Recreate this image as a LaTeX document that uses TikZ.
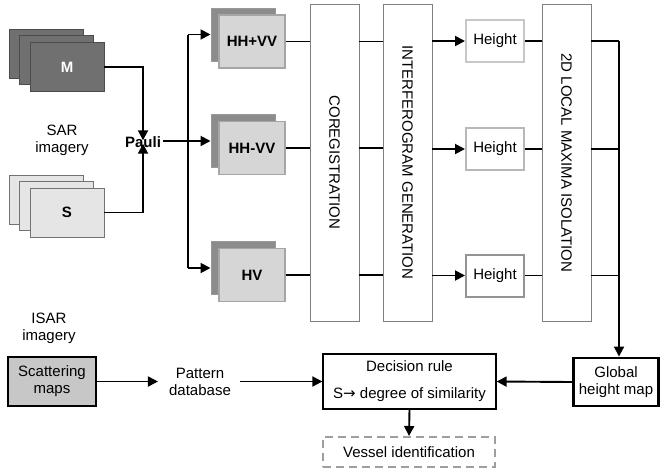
\documentclass[tikz,border=0pt]{standalone}
\usepackage{fontspec}
\setmainfont{Liberation Sans}
\newfontfamily\dejavu{DejaVu Sans}
\usetikzlibrary{arrows.meta}
\begin{document}
\begin{tikzpicture}[x=1pt,y=-1pt,
  every node/.style={font=\fontsize{15}{17}\selectfont, inner sep=0pt},
  ln/.style={line width=1.9pt},
  arr/.style={line width=1.9pt,-{Triangle[length=10pt,width=10pt]}},
  mcard/.style={draw=black!70, fill=black!56, line width=0.8pt, minimum width=74pt, minimum height=49pt},
  scard/.style={draw=black!55, fill=black!10, line width=0.8pt, minimum width=74pt, minimum height=49pt},
  pback/.style={fill=black!45, draw=black!40, line width=1pt, minimum width=64pt, minimum height=53pt},
  pfront/.style={fill=black!16, draw=black!35, line width=1.6pt, minimum width=66pt, minimum height=53pt, font=\fontsize{15}{17}\selectfont\bfseries},
  tall/.style={draw=black!50, line width=0.9pt, minimum width=49pt, minimum height=317pt},
  hbox/.style={line width=2pt, minimum width=58pt, minimum height=42pt},
  thick box/.style={draw=black, line width=2.9pt},
]
\useasboundingbox (0,0) rectangle (660,472);

% SAR stacks
\node[mcard] (m1) at (46,53.5) {};
\node[mcard] (m2) at (56.5,60) {};
\node[mcard, text=white, font=\fontsize{15}{17}\selectfont\bfseries] (m3) at (67,67) {M};
\node[scard] (s1) at (46,199.5) {};
\node[scard] (s2) at (56.5,206) {};
\node[scard, font=\fontsize{15}{17}\selectfont\bfseries] (s3) at (67,212.5) {S};
\node[align=center] (sar) at (62,140) {SAR\\imagery};

\node[font=\fontsize{15}{17}\selectfont\bfseries] (pauli) at (143,142) {Pauli};
\draw[arr] (m3.east) -| ([yshift=-4pt]pauli.north);
\draw[arr] (s3.east) -| ([yshift=4pt]pauli.south);

% polarimetric channels
\node[pback] (b1) at (243,34.5) {};
\node[pfront] (f1) at (252,41.5) {HH+VV};
\node[pback] (b2) at (243,141) {};
\node[pfront] (f2) at (252,148) {HH-VV};
\node[pback] (b3) at (243,268) {};
\node[pfront] (f3) at (252,275) {HV};

\coordinate (split) at (188,141);
\draw[ln] ([xshift=3pt]pauli.east) |- (split);
\draw[arr] (split) -- (b2.west);
\draw[ln] (b1.west -| split) -- (b3.west -| split);
\draw[arr] (b1.west -| split) -- (b1.west);
\draw[arr] (b3.west -| split) -- (b3.west);

% tall boxes
\node[tall] (coreg) at (334.5,162.5) {};
\node[rotate=-90] at (coreg.center) {COREGISTRATION};
\node[tall] (interf) at (407.5,162.5) {};
\node[rotate=-90] at (interf.center) {INTERFEROGRAM GENERATION};
\node[tall] (local) at (566.5,163) {};
\node[rotate=-90] at (local.center) {2D LOCAL MAXIMA ISOLATION};

\foreach \i in {1,2,3} {
  \draw[ln] (f\i.east) -- (f\i.east -| coreg.west);
  \draw[ln] (f\i.east -| coreg.east) -- (f\i.east -| interf.west);
}

% height boxes
\node[hbox, draw=black!22] (h1) at (495,41) {Height};
\node[hbox, draw=black!28] (h2) at (495,149) {Height};
\node[hbox, draw=black!42] (h3) at (495,275.5) {Height};
\foreach \i in {1,2,3} {
  \draw[arr] (h\i.west -| interf.east) -- (h\i.west);
  \draw[ln] (h\i.east) -- (h\i.east -| local.west);
}

% global height map
\node[thick box, minimum width=85pt, minimum height=48pt, align=center] (global) at (616,382) {Global\\height map};
\coordinate (gcol) at (619,41);
\draw[ln] (h1.east -| local.east) -- (gcol);
\draw[ln] (h2.east -| local.east) -- (h2.east -| gcol);
\draw[ln] (h3.east -| local.east) -- (h3.east -| gcol);
\draw[arr] (gcol) -- (gcol |- global.north);

% decision
\node[draw=black, line width=1.3pt, minimum width=173pt, minimum height=55pt, align=center] (dec) at (409.5,381.5) {Decision rule\\[10pt]S{\dejavu →} degree of similarity};
\draw[arr] (global.west) -- (dec.east);
\node[draw=black!38, line width=2pt, dash pattern=on 8pt off 5pt, minimum width=172pt, minimum height=30pt] (vessel) at (409,452) {Vessel identification};
\draw[arr] (dec.south) -- (vessel.north);

% ISAR
\node[align=center] (isar) at (49,328) {ISAR\\imagery};
\node[thick box, fill=black!22, minimum width=88pt, minimum height=49pt, align=center] (scat) at (52,381.5) {Scattering\\maps};
\node[align=center] (pat) at (200,382) {Pattern\\database};
\draw[arr] (scat.east) -- ([xshift=-11pt]pat.west |- scat.east);
\draw[arr] ([xshift=9pt]pat.east |- dec.west) -- (dec.west);
\end{tikzpicture}
\end{document}
